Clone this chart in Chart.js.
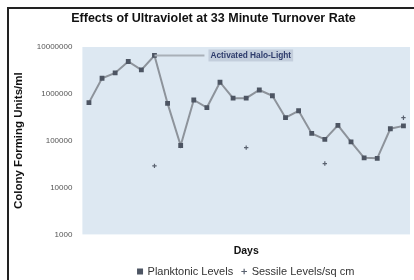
<!DOCTYPE html>
<html>
<head>
<meta charset="utf-8">
<script src="https://cdn.jsdelivr.net/npm/chart.js@4"></script>
<style>
  body { margin: 0; background: #fff; overflow: hidden; }
  #wrap {
    position: absolute; left: 7px; top: 7px;
    width: 407px; height: 278px;
    border-left: 2px solid #222; border-top: 2px solid #222;
  }
</style>
</head>
<body>
<div id="wrap"><canvas id="chart"></canvas></div>
<script>
// days 1..25 (x labels are not shown on the chart)
const days = ['1','2','3','4','5','6','7','8','9','10','11','12','13','14','15','16','17','18','19','20','21','22','23','24','25'];
const planktonic = [650000, 2150000, 2800000, 4900000, 3250000, 6600000, 625000, 79000, 740000, 510000,
  1770000, 810000, 810000, 1210000, 910000, 310000, 435000, 143000, 107000, 213000,
  94000, 43000, 42000, 180000, 207000];
const sessile = [null, null, null, null, null, 29000, null, null, null, null,
  null, null, 71000, null, null, null, null, null, 32500, null,
  null, null, null, null, 310000];
const yTicks = [1000, 10000, 100000, 1000000, 10000000];
const noteIndex = 5;
const noteText = 'Activated Halo-Light';

// light blue plot background + the halo-light note
const plotBg = {
  id: 'plotBg',
  beforeDraw(chart) {
    const { ctx, chartArea: a } = chart;
    ctx.save();
    ctx.fillStyle = '#dde8f2';
    ctx.fillRect(a.left, a.top, a.right - a.left, a.bottom - a.top);
    ctx.restore();
  },
  afterDatasetsDraw(chart) {
    const ctx = chart.ctx;
    const pt = chart.getDatasetMeta(0).data[noteIndex];
    const x0 = pt.x, y0 = pt.y;
    const lx = x0 + 54;
    ctx.save();
    ctx.strokeStyle = '#a9b0b8';
    ctx.lineWidth = 2;
    ctx.beginPath();
    ctx.moveTo(x0, y0);
    ctx.lineTo(lx - 4, y0);
    ctx.stroke();
    ctx.font = 'bold 8.3px Arial, "Liberation Sans"';
    const w = ctx.measureText(noteText).width;
    ctx.fillStyle = '#c3cedc';
    ctx.fillRect(lx, y0 - 6, w + 4, 12);
    ctx.fillStyle = '#2d3b6b';
    ctx.textBaseline = 'middle';
    ctx.fillText(noteText, lx + 2, y0 + 0.5);
    ctx.restore();
  }
};

new Chart(document.getElementById('chart'), {
  type: 'line',
  data: {
    labels: days,
    datasets: [
      {
        label: 'Planktonic Levels',
        data: planktonic,
        borderColor: '#8d939b',
        borderWidth: 2,
        pointStyle: 'rect',
        pointRadius: 2,
        pointBackgroundColor: '#4d5563',
        pointBorderColor: '#4d5563',
        tension: 0
      },
      {
        label: 'Sessile Levels/sq cm',
        data: sessile,
        showLine: false,
        pointStyle: 'cross',
        pointRadius: 2.2,
        pointBorderWidth: 1.2,
        pointBorderColor: '#5a6270',
        pointBackgroundColor: '#5a6270'
      }
    ]
  },
  options: {
    responsive: true,
    maintainAspectRatio: false,
    animation: false,
    layout: { padding: { left: 3, right: 1, top: 0, bottom: 0 } },
    plugins: {
      title: {
        display: true,
        text: 'Effects of Ultraviolet at 33 Minute Turnover Rate',
        color: '#111',
        font: { family: 'Arial, "Liberation Sans"', size: 12.5, weight: 'bold' },
        padding: { top: 2, bottom: 21 }
      },
      legend: {
        position: 'bottom',
        fullSize: false,
        labels: {
          usePointStyle: true,
          boxWidth: 4,
          boxHeight: 4,
          padding: 9,
          color: '#333',
          font: { family: 'Arial, "Liberation Sans"', size: 11 }
        }
      },
      tooltip: { enabled: false }
    },
    scales: {
      x: {
        offset: true,
        grid: { display: false, drawTicks: false },
        border: { display: false },
        ticks: { display: false },
        title: {
          display: true,
          text: 'Days',
          color: '#111',
          font: { family: 'Arial, "Liberation Sans"', size: 10.5, weight: 'bold' },
          padding: { top: 10, bottom: 0 }
        }
      },
      y: {
        type: 'logarithmic',
        min: 1000,
        max: 10000000,
        grid: { display: false, drawTicks: false },
        border: { display: false },
        afterBuildTicks(axis) {
          axis.ticks = yTicks.map(v => ({ value: v }));
        },
        ticks: {
          color: '#555',
          padding: 10,
          font: { family: 'Arial, "Liberation Sans"', size: 8 },
          callback: v => String(v)
        },
        title: {
          display: true,
          text: 'Colony Forming Units/ml',
          color: '#111',
          font: { family: 'Arial, "Liberation Sans"', size: 11.5, weight: 'bold' },
          padding: { top: 0, bottom: 1 }
        }
      }
    }
  },
  plugins: [plotBg]
});
</script>
</body>
</html>
